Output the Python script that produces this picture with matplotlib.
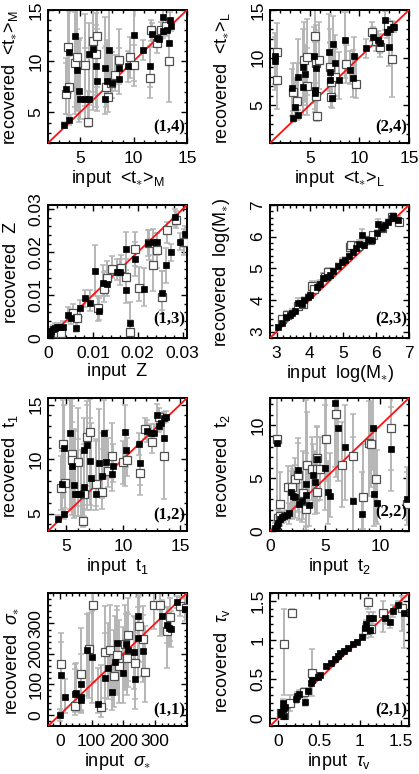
import matplotlib
matplotlib.use("Agg")
import matplotlib.pyplot as plt
from matplotlib.ticker import MultipleLocator, FixedLocator

plt.rcParams['font.family'] = ['Liberation Sans', 'DejaVu Sans']
plt.rcParams['mathtext.fontset'] = 'custom'
plt.rcParams['mathtext.rm'] = 'Liberation Sans'
plt.rcParams['mathtext.it'] = 'Liberation Sans:italic'
plt.rcParams['mathtext.bf'] = 'Liberation Sans:bold'

# ---------------- data: (input, recovered, err_low, err_high) ----------------
tM_filled = [
    (3.5, 3.8, 0.3, 0.3), (4.0, 4.2, 0.4, 0.5), (3.7, 7.3, 2.5, 3.0), (4.0, 10.9, 4.0, 4.0), (4.5, 12.5, 7.0, 3.0),
    (4.7, 9.1, 4.0, 4.0), (4.9, 7.1, 3.0, 5.0), (5.0, 6.3, 2.0, 6.0), (5.5, 6.3, 2.0, 5.0), (5.8, 6.3, 2.0, 4.0),
    (5.8, 10.7, 5.0, 3.0), (6.2, 11.2, 6.0, 4.0), (6.5, 9.5, 4.0, 4.0), (6.6, 8.1, 3.0, 5.0), (7.3, 6.3, 1.5, 5.0),
    (7.3, 9.3, 3.0, 5.0), (7.5, 8.1, 2.0, 4.0), (7.7, 11.1, 4.0, 4.0), (7.95, 7.85, 1.5, 3.0), (8.6, 9.3, 1.5, 2.0),
    (8.6, 8.3, 1.5, 2.0), (9.5, 9.5, 1.5, 1.5), (10.0, 12.6, 5.0, 2.5), (10.9, 11.1, 1.0, 1.0), (11.5, 9.5, 2.0, 2.0),
    (11.7, 12.7, 1.0, 1.0), (12.2, 12.3, 0.8, 0.8), (12.4, 12.2, 0.8, 0.8), (12.8, 12.9, 0.6, 0.6), (12.8, 14.3, 1.0, 1.0),
    (13.1, 13.0, 0.5, 0.5), (13.3, 11.8, 2.0, 2.0), (13.4, 14.0, 0.8, 0.8), (13.5, 13.4, 0.5, 0.5)]
tM_open = [
    (3.7, 6.8, 2.0, 3.0), (3.9, 11.4, 5.0, 4.0), (4.0, 7.5, 3.0, 3.0), (4.5, 9.8, 5.0, 5.0), (4.7, 10.4, 5.0, 5.0),
    (5.5, 9.6, 4.0, 5.0), (5.7, 4.1, 0.5, 3.0), (6.2, 12.0, 5.0, 3.0), (6.6, 12.5, 5.0, 3.0), (6.5, 10.7, 4.0, 4.0),
    (7.4, 7.5, 2.0, 4.0), (7.6, 6.5, 1.5, 4.0), (7.9, 7.9, 1.5, 3.0), (8.3, 8.6, 1.5, 2.0), (8.6, 10.1, 2.0, 3.0),
    (9.7, 10.4, 2.0, 2.0), (10.0, 9.6, 1.5, 2.0), (11.5, 8.4, 2.0, 3.0), (11.6, 13.0, 1.0, 1.0), (12.2, 11.8, 1.0, 1.0),
    (12.6, 13.0, 0.8, 0.8), (13.0, 13.4, 0.7, 0.7), (13.3, 10.0, 4.0, 4.0)]

tL_filled = [
    (1.5, 10.2, 3.0, 2.0), (1.5, 9.6, 3.0, 3.0), (3.35, 3.6, 0.4, 0.4), (3.5, 4.8, 1.0, 3.0), (3.85, 4.0, 0.5, 0.5),
    (3.2, 6.8, 3.0, 2.0), (3.85, 8.0, 3.0, 4.0), (4.35, 9.0, 4.0, 4.0), (4.5, 8.3, 3.0, 3.0), (4.35, 6.9, 3.0, 3.0),
    (5.4, 10.2, 5.0, 3.0), (5.5, 6.6, 2.0, 5.0), (5.5, 6.3, 2.0, 4.0), (5.6, 8.9, 3.0, 4.0), (6.9, 10.6, 4.0, 4.0),
    (7.0, 7.6, 2.0, 4.0), (7.05, 8.5, 2.0, 3.0), (7.2, 5.7, 1.0, 3.0), (7.3, 11.4, 4.0, 3.0), (7.5, 9.4, 2.0, 3.0),
    (7.9, 7.6, 2.0, 3.0), (8.55, 11.8, 4.0, 3.0), (9.4, 7.8, 2.0, 3.0), (9.5, 10.2, 2.0, 2.0), (9.05, 8.7, 1.5, 2.0),
    (10.7, 11.0, 1.0, 1.0), (11.4, 12.2, 1.0, 1.0), (11.9, 11.8, 1.0, 1.0), (12.1, 11.5, 1.0, 1.0), (12.6, 13.9, 1.0, 1.0),
    (12.75, 12.7, 0.6, 0.6), (13.1, 13.0, 0.5, 0.5), (13.35, 13.2, 0.5, 0.5), (13.0, 11.1, 2.0, 2.0), (13.5, 13.2, 0.5, 0.5)]
tL_open = [
    (1.7, 10.6, 3.0, 3.0), (1.7, 7.6, 3.0, 3.0), (3.3, 6.4, 2.0, 3.0), (3.75, 5.4, 2.0, 4.0), (4.45, 9.7, 4.0, 4.0),
    (4.7, 10.1, 4.0, 4.0), (4.7, 7.0, 3.0, 4.0), (5.5, 12.3, 5.0, 3.0), (5.6, 5.9, 2.0, 4.0), (5.7, 3.8, 0.5, 3.0),
    (5.6, 9.4, 4.0, 4.0), (5.9, 9.7, 3.0, 4.0), (7.05, 9.0, 2.0, 4.0), (7.1, 7.4, 2.0, 3.0), (7.1, 5.8, 1.0, 3.0),
    (7.5, 7.9, 2.0, 3.0), (8.7, 9.3, 2.0, 2.0), (9.7, 7.2, 1.5, 3.0), (11.25, 12.7, 1.0, 1.0), (11.7, 11.7, 1.0, 1.0),
    (12.1, 11.1, 1.0, 1.0), (13.25, 9.8, 4.0, 4.0), (12.9, 13.4, 0.7, 0.7)]

Z_filled = [
    (0.0004, 0.0008, 0.0005, 0.0008), (0.0007, 0.0016, 0.0008, 0.001), (0.0011, 0.0020, 0.001, 0.001),
    (0.0015, 0.0024, 0.001, 0.001), (0.0019, 0.0025, 0.001, 0.001), (0.0026, 0.0025, 0.001, 0.001),
    (0.0034, 0.0025, 0.001, 0.0015), (0.0045, 0.0053, 0.0015, 0.002), (0.0052, 0.0047, 0.0015, 0.002),
    (0.0063, 0.0024, 0.001, 0.002), (0.0072, 0.0069, 0.002, 0.002), (0.0082, 0.0093, 0.002, 0.002),
    (0.0093, 0.0082, 0.002, 0.003), (0.0114, 0.0063, 0.002, 0.003), (0.0105, 0.0157, 0.006, 0.006),
    (0.0123, 0.0129, 0.003, 0.004), (0.0132, 0.0127, 0.003, 0.003), (0.0153, 0.0155, 0.002, 0.003),
    (0.0161, 0.0153, 0.003, 0.003), (0.0174, 0.0208, 0.005, 0.004), (0.0174, 0.0111, 0.003, 0.004),
    (0.0183, 0.0035, 0.002, 0.005), (0.0194, 0.0184, 0.004, 0.004), (0.0214, 0.0114, 0.004, 0.005),
    (0.0224, 0.0221, 0.003, 0.003), (0.0235, 0.0224, 0.003, 0.003), (0.0243, 0.0224, 0.003, 0.002),
    (0.0264, 0.0169, 0.004, 0.004), (0.0254, 0.0106, 0.004, 0.005), (0.0274, 0.0200, 0.002, 0.002),
    (0.0284, 0.0281, 0.002, 0.002), (0.0295, 0.0224, 0.002, 0.002), (0.0305, 0.0242, 0.003, 0.002)]
Z_open = [
    (0.0011, 0.0012, 0.001, 0.001), (0.0022, 0.0012, 0.001, 0.001), (0.0030, 0.0012, 0.001, 0.001),
    (0.0056, 0.0059, 0.002, 0.002), (0.0065, 0.0046, 0.002, 0.002), (0.0112, 0.0069, 0.003, 0.003),
    (0.0125, 0.0114, 0.003, 0.004), (0.0131, 0.0140, 0.003, 0.004), (0.0142, 0.0161, 0.002, 0.003),
    (0.0162, 0.0164, 0.002, 0.003), (0.0174, 0.0143, 0.003, 0.004), (0.0183, 0.0013, 0.001, 0.003),
    (0.0194, 0.0208, 0.004, 0.004), (0.0202, 0.0116, 0.003, 0.005), (0.0226, 0.0221, 0.004, 0.003),
    (0.0234, 0.0169, 0.006, 0.005), (0.0243, 0.0204, 0.004, 0.004), (0.0255, 0.0096, 0.004, 0.006),
    (0.0265, 0.0251, 0.003, 0.002), (0.0285, 0.0276, 0.002, 0.002), (0.0303, 0.0224, 0.003, 0.003)]

M_filled = [
    (3.05, 3.14, 0.05, 0.08), (3.15, 3.28, 0.05, 0.1), (3.28, 3.46, 0.08, 0.1), (3.4, 3.52, 0.08, 0.1),
    (3.45, 3.6, 0.08, 0.1), (3.55, 3.65, 0.08, 0.1), (3.65, 3.92, 0.1, 0.15), (3.76, 3.86, 0.1, 0.2),
    (3.83, 3.99, 0.1, 0.1), (3.96, 4.1, 0.1, 0.1), (4.0, 4.16, 0.1, 0.1), (4.21, 4.4, 0.1, 0.2),
    (4.31, 4.52, 0.1, 0.1), (4.41, 4.69, 0.1, 0.15), (4.51, 4.74, 0.1, 0.1), (4.61, 4.8, 0.1, 0.1),
    (4.71, 4.91, 0.1, 0.1), (4.86, 5.06, 0.1, 0.1), (4.97, 5.19, 0.1, 0.15), (5.07, 5.25, 0.1, 0.1),
    (5.2, 5.4, 0.1, 0.1), (5.32, 5.51, 0.1, 0.1), (5.4, 5.65, 0.1, 0.1), (5.5, 5.78, 0.1, 0.1),
    (5.57, 6.04, 0.15, 0.2), (5.64, 5.73, 0.1, 0.1), (5.77, 5.89, 0.1, 0.1), (5.87, 5.91, 0.1, 0.1),
    (6.02, 6.12, 0.1, 0.1), (6.05, 6.4, 0.1, 0.15), (6.17, 6.26, 0.1, 0.1), (6.27, 6.36, 0.1, 0.1),
    (6.38, 6.47, 0.1, 0.1), (6.48, 6.58, 0.1, 0.1), (6.53, 6.65, 0.1, 0.1), (6.68, 6.54, 0.1, 0.1)]
M_open = [
    (3.15, 3.39, 0.1, 0.1), (3.32, 3.54, 0.1, 0.1), (3.65, 3.81, 0.1, 0.1), (3.79, 3.86, 0.1, 0.1),
    (4.06, 4.45, 0.1, 0.15), (4.13, 4.34, 0.1, 0.1), (4.46, 4.74, 0.1, 0.1), (4.56, 4.87, 0.1, 0.15),
    (5.22, 5.67, 0.1, 0.1), (5.25, 5.73, 0.1, 0.1), (5.47, 5.69, 0.1, 0.1), (5.82, 5.89, 0.1, 0.1),
    (5.92, 6.04, 0.1, 0.1), (6.17, 6.26, 0.1, 0.1), (6.48, 6.63, 0.1, 0.1), (6.71, 6.47, 0.1, 0.1)]

t1_filled = [
    (4.3, 4.5, 0.3, 0.4), (4.8, 5.0, 0.5, 0.5), (4.6, 7.7, 3.0, 3.0), (4.8, 11.0, 4.0, 4.0), (5.3, 12.4, 7.0, 3.0),
    (5.5, 9.4, 4.0, 4.0), (5.7, 7.6, 3.0, 5.0), (5.75, 6.8, 2.0, 6.0), (6.05, 6.8, 2.0, 5.0), (6.3, 6.8, 2.0, 4.0),
    (6.6, 7.4, 2.0, 4.0), (6.6, 10.8, 5.0, 3.0), (6.85, 11.3, 6.0, 4.0), (7.1, 9.8, 4.0, 4.0), (7.2, 8.3, 3.0, 5.0),
    (7.65, 6.8, 1.5, 5.0), (7.9, 9.6, 3.0, 5.0), (8.1, 8.4, 2.0, 4.0), (8.3, 12.4, 4.0, 3.0), (8.5, 9.7, 1.5, 3.0),
    (9.0, 8.6, 1.5, 2.0), (9.1, 9.4, 1.5, 2.0), (10.25, 10.8, 1.5, 1.5), (10.2, 12.5, 5.0, 2.5), (11.35, 11.4, 1.0, 1.0),
    (11.5, 9.6, 2.0, 2.0), (12.1, 12.6, 1.0, 1.0), (12.4, 12.4, 0.8, 0.8), (12.7, 12.4, 0.8, 0.8), (13.0, 14.05, 1.0, 1.0),
    (13.1, 13.0, 0.5, 0.5), (13.3, 13.3, 0.6, 0.6), (13.55, 11.9, 2.0, 2.0), (13.6, 13.8, 0.5, 0.5), (13.8, 13.9, 0.5, 0.5)]
t1_open = [
    (4.5, 7.3, 2.0, 3.0), (4.7, 11.4, 5.0, 4.0), (4.9, 7.8, 3.0, 3.0), (5.5, 10.5, 5.0, 5.0), (5.5, 9.9, 5.0, 5.0),
    (6.05, 9.7, 4.0, 5.0), (6.5, 4.3, 0.5, 3.0), (6.6, 6.8, 2.0, 4.0), (6.85, 12.0, 5.0, 3.0), (7.1, 12.5, 5.0, 3.0),
    (7.65, 7.7, 2.0, 4.0), (8.1, 6.95, 1.5, 4.0), (8.7, 8.9, 1.5, 3.0), (9.0, 10.3, 2.0, 3.0), (9.95, 9.7, 2.0, 2.0),
    (10.3, 9.9, 1.5, 2.0), (11.5, 8.7, 2.0, 3.0), (11.9, 12.8, 1.0, 1.0), (12.5, 11.6, 1.0, 1.0), (13.1, 13.9, 0.8, 0.8),
    (13.55, 10.3, 4.0, 4.0)]

t2_filled = [
    (0.45, 0.32, 0.3, 0.4), (0.6, 0.48, 0.4, 0.6), (0.75, 0.8, 0.5, 0.6), (0.9, 1.1, 0.6, 0.5), (1.05, 1.3, 0.5, 0.5),
    (0.6, 8.3, 8.0, 4.5), (1.27, 1.44, 0.6, 0.5), (1.5, 1.5, 0.5, 0.5), (1.75, 1.66, 1.0, 1.0), (1.9, 3.7, 2.0, 2.0),
    (2.1, 3.35, 2.0, 2.5), (2.27, 3.25, 2.0, 3.0), (2.5, 5.8, 4.0, 3.0), (2.66, 2.55, 1.5, 2.0), (2.87, 2.87, 2.0, 3.0),
    (3.3, 3.4, 3.0, 4.0), (3.3, 4.45, 4.0, 8.0), (3.57, 2.45, 2.0, 3.0), (3.93, 5.26, 3.0, 3.0), (4.08, 4.6, 3.0, 3.0),
    (4.23, 6.86, 4.0, 3.0), (5.0, 5.96, 4.0, 6.0), (5.3, 3.67, 3.0, 3.0), (5.43, 3.35, 2.0, 4.0), (5.9, 12.1, 6.0, 1.0),
    (6.2, 9.73, 5.0, 3.0), (6.8, 7.97, 5.0, 4.0), (7.5, 2.87, 3.0, 6.0), (8.3, 1.6, 1.5, 4.0), (9.3, 9.8, 4.0, 3.0),
    (9.45, 3.5, 3.0, 5.0), (9.67, 2.65, 2.0, 5.0), (11.0, 7.75, 4.0, 4.0), (12.45, 3.03, 2.0, 3.0)]
t2_open = [
    (0.6, 8.7, 8.0, 4.0), (0.9, 2.55, 2.0, 3.0), (0.75, 1.27, 0.7, 0.7), (0.9, 1.44, 0.7, 0.7), (1.66, 4.15, 3.0, 2.0),
    (1.96, 4.15, 3.0, 2.0), (2.27, 4.9, 3.0, 2.0), (2.5, 5.3, 3.0, 3.0), (3.0, 3.6, 2.5, 4.0), (3.3, 2.07, 2.0, 4.0),
    (3.38, 6.28, 4.0, 5.0), (3.78, 5.9, 3.0, 3.0), (4.23, 6.92, 4.0, 3.0), (4.3, 5.9, 3.0, 3.0), (4.5, 5.9, 3.0, 3.0),
    (4.23, 3.67, 2.0, 3.0), (5.07, 8.7, 4.0, 4.0), (6.0, 11.07, 6.0, 2.0), (6.5, 6.28, 4.0, 4.0), (7.55, 7.1, 4.0, 4.0),
    (8.4, 3.2, 3.0, 5.0), (9.0, 8.3, 5.0, 4.0), (9.2, 8.2, 4.0, 4.0), (9.6, 4.9, 4.0, 5.0), (11.0, 9.8, 4.0, 3.0),
    (12.45, 2.55, 2.0, 3.0)]

sig_filled = [
    (0, 0, 20, 20), (5, 129, 130, 110), (16, 57, 50, 60), (47, 68, 60, 100), (50, 71, 60, 100), (68, 57, 50, 80),
    (68, 49, 40, 60), (66, 101, 90, 100), (87, 212, 150, 120), (100, 190, 150, 150), (121, 35, 30, 120),
    (142, 120, 100, 150), (163, 74, 60, 130), (153, 153, 100, 150), (174, 173, 100, 150), (181, 237, 150, 120),
    (200, 138, 100, 150), (216, 212, 120, 120), (208, 231, 130, 100), (232, 206, 120, 120), (238, 118, 100, 150),
    (247, 326, 150, 60), (247, 253, 130, 100), (261, 208, 100, 120), (321, 326, 60, 50), (342, 286, 60, 60),
    (350, 282, 60, 60), (337, 295, 60, 60), (368, 370, 20, 20), (395, 348, 40, 40)]
sig_open = [
    (3, 168, 160, 100), (68, 134, 120, 150), (47, 29, 30, 120), (93, 215, 160, 120), (103, 359, 250, 40),
    (131, 24, 30, 140), (142, 206, 150, 150), (158, 212, 150, 150), (170, 127, 100, 150), (181, 195, 130, 150),
    (187, 160, 120, 150), (205, 231, 150, 130), (210, 186, 120, 150), (238, 171, 120, 150), (216, 262, 150, 120),
    (250, 293, 120, 100), (263, 248, 120, 110), (268, 142, 100, 150), (295, 361, 80, 40), (316, 359, 100, 40),
    (337, 275, 120, 80), (347, 322, 80, 60), (379, 356, 30, 30), (398, 350, 30, 30)]

tau_filled = [
    (0.03, 0.05, 0.03, 0.03), (0.04, 0.08, 0.03, 0.03), (0.055, 0.115, 0.03, 0.04), (0.063, 0.2, 0.04, 0.05),
    (0.07, 0.03, 0.03, 0.03), (0.08, 0.14, 0.03, 0.04), (0.22, 0.25, 0.05, 0.05), (0.23, 0.28, 0.05, 0.05),
    (0.26, 0.31, 0.05, 0.05), (0.33, 0.21, 0.05, 0.05), (0.36, 0.35, 0.03, 0.03), (0.4, 0.45, 0.03, 0.03),
    (0.41, 0.49, 0.03, 0.03), (0.49, 0.53, 0.02, 0.02), (0.51, 0.55, 0.02, 0.02), (0.585, 0.67, 0.02, 0.02),
    (0.64, 0.71, 0.02, 0.02), (0.695, 0.76, 0.02, 0.02), (0.735, 0.8, 0.02, 0.02), (0.76, 0.83, 0.02, 0.02),
    (0.8, 0.86, 0.02, 0.02), (0.85, 0.9, 0.02, 0.02), (0.92, 0.95, 0.02, 0.02), (0.96, 0.98, 0.02, 0.02),
    (1.02, 1.04, 0.03, 0.03), (1.06, 1.15, 0.05, 0.05), (1.08, 1.2, 0.05, 0.05), (1.115, 1.28, 0.08, 0.08),
    (1.155, 1.28, 0.08, 0.08), (1.12, 1.13, 0.05, 0.05), (1.31, 1.28, 0.08, 0.08), (1.37, 1.23, 0.08, 0.08),
    (1.41, 1.37, 0.08, 0.08), (1.47, 1.45, 0.05, 0.05), (1.54, 1.35, 0.45, 0.1)]
tau_open = [
    (0.07, 0.95, 0.65, 0.45), (0.165, 1.35, 0.05, 0.05), (0.04, 0.07, 0.04, 0.04), (0.07, 0.04, 0.03, 0.03),
    (0.14, 0.19, 0.1, 0.1), (0.31, 0.33, 0.06, 0.06), (0.41, 0.58, 0.3, 0.3), (1.1, 1.49, 0.1, 0.05),
    (1.07, 1.13, 0.1, 0.1), (1.13, 1.14, 0.1, 0.1), (1.28, 1.35, 0.25, 0.15), (1.51, 1.41, 0.3, 0.15)]

# ---------------- figure ----------------
W, H = 419, 774
fig = plt.figure(figsize=(W / 100, H / 100), dpi=100)

col_left = [48 / W, 270 / W]
row_top_px = [10, 205, 398, 593]
aw, ah = 139 / W, 133 / H

ECOL = '#b5b5b5'
LAB_FS = 13
TICK_FS = 12.5


def panel(ax, filled, opened, lim, ticks, ticklabels, minor, xlabel, ylabel, tag, col, tagy=0.12):
    for data in (opened, filled):
        xs = [d[0] for d in data]
        ys = [d[1] for d in data]
        lo = [d[2] for d in data]
        hi = [d[3] for d in data]
        ax.errorbar(xs, ys, yerr=[lo, hi], fmt='none', ecolor=ECOL, elinewidth=1.4,
                    capsize=2.2, capthick=1.1, zorder=2, clip_on=True)
    ax.plot(lim, lim, color='#ff1010', lw=1.3, zorder=3)
    ax.plot([d[0] for d in opened], [d[1] for d in opened], 's', ms=5.3, mfc='white',
            mec='#505050', mew=0.9, zorder=4, clip_on=True)
    ax.plot([d[0] for d in filled], [d[1] for d in filled], 's', ms=5.0, mfc='black',
            mec='black', mew=0.5, zorder=5, clip_on=True)
    ax.set_xlim(lim)
    ax.set_ylim(lim)
    ax.xaxis.set_major_locator(FixedLocator(ticks))
    ax.yaxis.set_major_locator(FixedLocator(ticks))
    ax.set_xticklabels(ticklabels)
    ax.set_yticklabels(ticklabels)
    ax.xaxis.set_minor_locator(MultipleLocator(minor))
    ax.yaxis.set_minor_locator(MultipleLocator(minor))
    ax.tick_params(which='both', direction='in', top=True, right=True, width=1.0)
    ax.tick_params(which='major', length=4.5)
    ax.tick_params(which='minor', length=2.5)
    ax.tick_params(axis='x', labelsize=TICK_FS, pad=6)
    ax.tick_params(axis='y', labelsize=TICK_FS, pad=3.5, labelrotation=90)
    for lbl in ax.get_yticklabels():
        lbl.set_va('center')
    for s in ax.spines.values():
        s.set_linewidth(1.4)
    ax.set_xlabel(xlabel, fontsize=LAB_FS)
    ax.set_ylabel(ylabel, fontsize=LAB_FS)
    ax.xaxis.set_label_coords(0.5, -0.19)
    ax.xaxis.label.set_va('top')
    ax.yaxis.set_label_coords(-0.2 if col == 0 else -0.27, 0.49)
    ax.text(0.985, tagy, tag, transform=ax.transAxes, ha='right', va='center',
            fontsize=12, fontweight='bold', family='Liberation Serif', zorder=6)


def make_ax(row, col):
    bottom = 1 - (row_top_px[row] + 133) / H
    return fig.add_axes([col_left[col], bottom, aw, ah])


t_ticks = [5, 10, 15]
t_labels = ['5', '10', '15']

panel(make_ax(0, 0), tM_filled, tM_open, [2, 15], t_ticks, t_labels, 1,
      r'input  <t$_{\ast}$>$_{\rm M}$', r'recovered  <t$_{\ast}$>$_{\rm M}$', '(1,4)', 0)
panel(make_ax(0, 1), tL_filled, tL_open, [1, 15], t_ticks, t_labels, 1,
      r'input  <t$_{\ast}$>$_{\rm L}$', r'recovered  <t$_{\ast}$>$_{\rm L}$', '(2,4)', 1)
panel(make_ax(1, 0), Z_filled, Z_open, [0, 0.031], [0, 0.01, 0.02, 0.03],
      ['0', '0.01', '0.02', '0.03'], 0.002, 'input  Z', 'recovered  Z', '(1,3)', 0, tagy=0.14)
panel(make_ax(1, 1), M_filled, M_open, [2.8, 7], [3, 4, 5, 6, 7], ['3', '4', '5', '6', '7'], 0.2,
      r'input  log(M$_{\ast}$)', r'recovered  log(M$_{\ast}$)', '(2,3)', 1, tagy=0.14)
panel(make_ax(2, 0), t1_filled, t1_open, [3.4, 15.6], t_ticks, t_labels, 1,
      r'input  t$_1$', r'recovered  t$_1$', '(1,2)', 0)
panel(make_ax(2, 1), t2_filled, t2_open, [0, 12.6], [0, 5, 10], ['0', '5', '10'], 1,
      r'input  t$_2$', r'recovered  t$_2$', '(2,2)', 1, tagy=0.14)
panel(make_ax(3, 0), sig_filled, sig_open, [-37, 400], [0, 100, 200, 300], ['0', '100', '200', '300'], 20,
      r'input  $\sigma_{\ast}$', r'recovered  $\sigma_{\ast}$', '(1,1)', 0)
panel(make_ax(3, 1), tau_filled, tau_open, [-0.1, 1.6], [0, 0.5, 1, 1.5], ['0', '0.5', '1', '1.5'], 0.1,
      r'input  $\tau_{\rm v}$', r'recovered  $\tau_{\rm v}$', '(2,1)', 1)

fig.savefig('out.png', dpi=100)
